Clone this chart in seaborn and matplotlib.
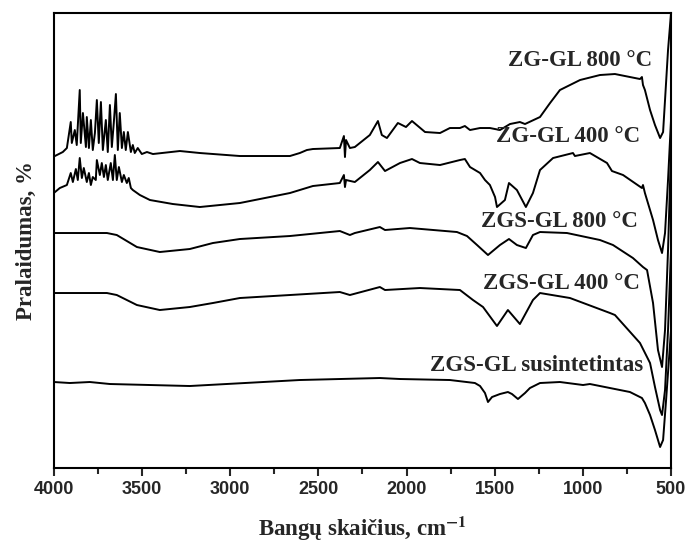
import matplotlib
matplotlib.use('Agg')
import matplotlib.pyplot as plt
import seaborn as sns
import pandas as pd
from matplotlib.ticker import MultipleLocator


# FTIR spectra, (wavenumber cm-1, transmittance in arbitrary units, already offset)
zg_gl_800 = [(4000, 315), (3994, 314), (3949, 318), (3926, 322), (3904, 348), (3898, 327),
             (3881, 340), (3870, 325), (3853, 380), (3847, 327), (3835, 357), (3818, 323),
             (3813, 353), (3801, 322), (3790, 350), (3779, 320), (3767, 337), (3756, 370),
             (3745, 327), (3733, 368), (3722, 320), (3705, 350), (3694, 318), (3682, 365),
             (3671, 323), (3660, 347), (3648, 376), (3637, 320), (3626, 357), (3614, 322),
             (3603, 338), (3592, 320), (3580, 338), (3563, 318), (3552, 325), (3541, 317),
             (3524, 322), (3501, 316), (3472, 318), (3438, 316), (3285, 319), (3172, 317),
             (2945, 314), (2661, 314), (2605, 317), (2565, 320), (2531, 321), (2378, 322),
             (2355, 334), (2349, 313), (2343, 330), (2321, 322), (2293, 323), (2208, 335),
             (2162, 349), (2140, 335), (2111, 332), (2049, 347), (2037, 346), (2003, 343),
             (1969, 349), (1895, 338), (1810, 337), (1754, 342), (1697, 342), (1669, 344),
             (1640, 340), (1583, 342), (1527, 342), (1470, 340), (1413, 346), (1357, 348),
             (1328, 346), (1243, 353), (1186, 367), (1130, 380), (1073, 385), (1016, 390),
             (903, 395), (818, 396), (733, 393), (676, 391), (665, 393), (659, 385),
             (648, 380), (619, 360), (591, 345), (562, 332), (545, 338), (534, 370),
             (517, 420), (500, 457)]

zg_gl_400 = [(4000, 277), (3966, 282), (3926, 285), (3904, 297), (3892, 288), (3875, 301),
             (3864, 290), (3853, 312), (3841, 292), (3830, 302), (3813, 288), (3801, 297),
             (3790, 285), (3779, 293), (3762, 290), (3756, 310), (3739, 295), (3728, 307),
             (3716, 293), (3705, 305), (3694, 290), (3677, 307), (3665, 290), (3654, 315),
             (3643, 290), (3631, 303), (3614, 288), (3603, 295), (3586, 287), (3575, 292),
             (3563, 282), (3552, 280), (3512, 275), (3455, 270), (3325, 266), (3172, 263),
             (2945, 267), (2661, 277), (2531, 284), (2378, 287), (2355, 295), (2349, 283),
             (2343, 290), (2293, 288), (2208, 300), (2162, 308), (2122, 299), (2037, 307),
             (1969, 311), (1924, 307), (1810, 305), (1697, 310), (1669, 311), (1640, 303),
             (1583, 297), (1555, 290), (1527, 285), (1498, 273), (1487, 263), (1442, 270),
             (1419, 287), (1374, 280), (1323, 263), (1283, 277), (1243, 300), (1169, 312),
             (1056, 317), (1045, 314), (960, 317), (863, 307), (835, 299), (772, 295),
             (665, 282), (659, 285), (648, 277), (602, 250), (574, 230), (551, 217),
             (534, 237), (517, 290), (500, 350)]

zgs_gl_800 = [(4000, 237), (3699, 237), (3643, 235), (3529, 223), (3399, 218), (3229, 221),
              (3098, 227), (2945, 231), (2661, 234), (2378, 239), (2321, 235), (2293, 237),
              (2151, 243), (2122, 240), (1981, 242), (1714, 238), (1657, 234), (1600, 225),
              (1538, 215), (1470, 225), (1419, 231), (1374, 225), (1323, 222), (1283, 235),
              (1243, 238), (1090, 237), (903, 230), (829, 225), (716, 212), (659, 203),
              (636, 200), (602, 167), (574, 120), (551, 103), (534, 140), (517, 220),
              (500, 320)]

zgs_gl_400 = [(4000, 177), (3699, 177), (3643, 175), (3529, 165), (3399, 160), (3229, 163),
              (3098, 167), (2945, 172), (2661, 175), (2378, 178), (2321, 175), (2151, 183),
              (2122, 180), (1924, 182), (1697, 180), (1623, 170), (1566, 163), (1487, 144),
              (1425, 160), (1357, 146), (1283, 170), (1243, 177), (1073, 172), (846, 157),
              (818, 155), (676, 127), (619, 107), (591, 83), (562, 60), (551, 55),
              (534, 80), (517, 140), (500, 220)]

zgs_gl_sint = [(4000, 88), (3909, 87), (3796, 88), (3682, 86), (3455, 85), (3229, 84),
               (2605, 90), (2151, 92), (2037, 91), (1754, 90), (1612, 87), (1583, 84),
               (1555, 77), (1538, 68), (1515, 73), (1470, 76), (1425, 78), (1402, 76),
               (1368, 71), (1328, 77), (1300, 82), (1243, 87), (1130, 88), (999, 85),
               (960, 86), (903, 84), (733, 78), (665, 72), (648, 67), (619, 55),
               (591, 40), (562, 23), (545, 30), (528, 70), (500, 140)]

spectra = [zg_gl_800, zg_gl_400, zgs_gl_800, zgs_gl_400, zgs_gl_sint]
labels = ['ZG-GL 800 \u00b0C', 'ZG-GL 400 \u00b0C', 'ZGS-GL 800 \u00b0C',
          'ZGS-GL 400 \u00b0C', 'ZGS-GL susintetintas']
# label anchor (right edge wavenumber, height)
label_pos = [(608, 410), (676, 334), (687, 249), (676, 187), (659, 105)]

sns.set_style('ticks')
plt.rcParams['mathtext.fontset'] = 'stix'

fig = plt.figure(figsize=(6.9, 5.47), dpi=100)
ax = fig.add_axes([0.078, 0.1444, 0.8945, 0.8318])

for spec in spectra:
    df = pd.DataFrame(spec, columns=['wn', 't'])
    sns.lineplot(data=df, x='wn', y='t', color='black', lw=1.4, ax=ax,
                 estimator=None, sort=False)

for lab, (x, y) in zip(labels, label_pos):
    ax.text(x, y, lab, ha='right', va='center', fontsize=16.5, fontweight='bold',
            family='Liberation Serif')

ax.set_xlim(4000, 500)
ax.set_ylim(2, 457)
ax.xaxis.set_major_locator(MultipleLocator(500))
ax.xaxis.set_minor_locator(MultipleLocator(250))
ax.tick_params(axis='x', which='major', direction='out', length=6, width=1.5)
ax.tick_params(axis='x', which='minor', direction='out', length=4, width=1.5)
ax.set_yticks([])
for lbl in ax.get_xticklabels():
    lbl.set_fontweight('bold')
    lbl.set_family('Liberation Sans')
    lbl.set_fontsize(13)

for s in ax.spines.values():
    s.set_linewidth(1.5)
    s.set_color('black')

ax.set_xlabel(r'Bangų skaičius, cm$^{\mathbf{-1}}$', fontsize=16.5, fontweight='bold',
              family='Liberation Serif', labelpad=12)
ax.set_ylabel('Pralaidumas, %', fontsize=16.5, fontweight='bold',
              family='Liberation Serif', labelpad=12)

fig.savefig('out.png', dpi=100)
